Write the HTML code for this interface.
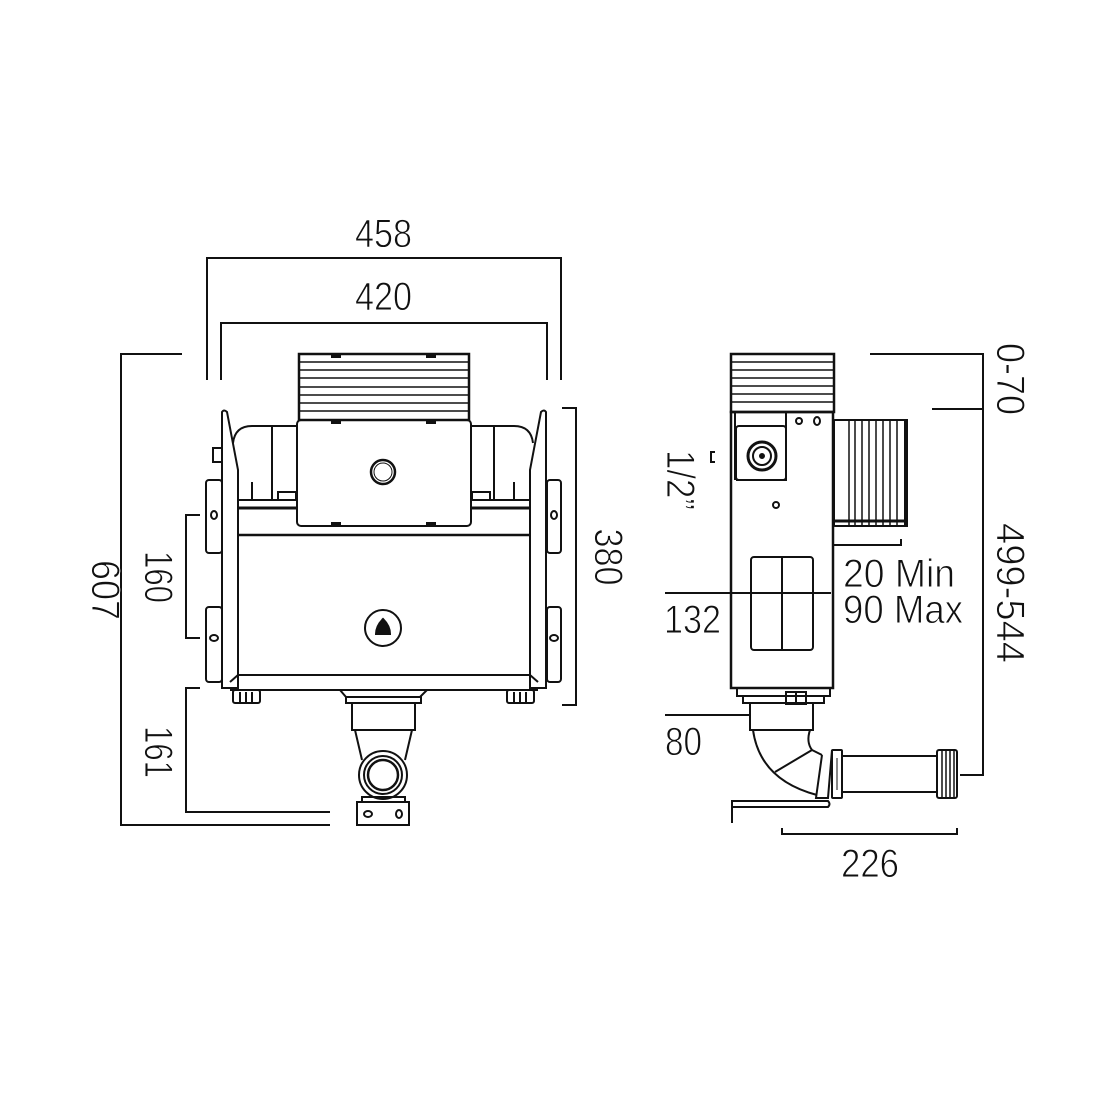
<!DOCTYPE html>
<html><head><meta charset="utf-8"><style>
html,body{margin:0;padding:0;background:#fff;}
svg{display:block}
text{font-family:"Liberation Sans",sans-serif;font-size:40px;fill:#111;stroke:#fff;stroke-width:0.9px;}
</style></head><body>
<svg width="1100" height="1100" viewBox="0 0 1100 1100" xmlns="http://www.w3.org/2000/svg">
<g fill="none" stroke="#111" stroke-width="2">
<polyline points="207,380 207,258 561,258 561,380"/>
<polyline points="221,380 221,323 547,323 547,380"/>
<polyline points="182,354 121,354 121,825 330,825"/>
<polyline points="200,515 186,515 186,638 200,638"/>
<polyline points="200,688 186,688 186,812 330,812"/>
<polyline points="562,408 576,408 576,705 562,705"/>

<rect x="299" y="354" width="170" height="66" stroke-width="2.5"/>
<g stroke-width="1.5">
<line x1="300" y1="362" x2="468" y2="362"/><line x1="300" y1="370" x2="468" y2="370"/>
<line x1="300" y1="378" x2="468" y2="378"/><line x1="300" y1="387" x2="468" y2="387"/>
<line x1="300" y1="395" x2="468" y2="395"/><line x1="300" y1="403" x2="468" y2="403"/>
<line x1="300" y1="411" x2="468" y2="411"/>
</g>
<g fill="#111" stroke="none">
<rect x="331" y="354" width="10" height="4"/><rect x="426" y="354" width="10" height="4"/>
<rect x="331" y="420" width="10" height="4"/><rect x="426" y="420" width="10" height="4"/>
<rect x="331" y="522" width="10" height="4"/><rect x="426" y="522" width="10" height="4"/>
</g>
<path d="M233,443 Q235,426 252,426 L297,426"/>
<path d="M533,443 Q531,426 514,426 L471,426"/>
<line x1="272" y1="426" x2="272" y2="500"/>
<line x1="494" y1="426" x2="494" y2="500"/>
<line x1="237" y1="500" x2="297" y2="500"/>
<line x1="471" y1="500" x2="531" y2="500"/>
<line x1="237" y1="508" x2="297" y2="508" stroke-width="3"/>
<line x1="471" y1="508" x2="531" y2="508" stroke-width="3"/>
<line x1="252" y1="482" x2="252" y2="500"/><line x1="514" y1="482" x2="514" y2="500"/>
<rect x="278" y="492" width="18" height="8"/><rect x="472" y="492" width="18" height="8"/>
<rect x="297" y="420" width="174" height="106" rx="4"/>
<circle cx="383" cy="472" r="12" stroke-width="2.5"/>
<circle cx="383" cy="472" r="9" stroke-width="1"/>
<path d="M222,688 L222,412 Q224,409 227,412 L238,470 L238,688 Z"/>
<path d="M546,688 L546,412 Q544,409 541,412 L530,470 L530,688 Z"/>
<rect x="213" y="448" width="9" height="14"/>
<rect x="206" y="480" width="16" height="73" rx="3"/><ellipse cx="214" cy="515" rx="3" ry="4"/>
<rect x="206" y="607" width="16" height="75" rx="3"/><ellipse cx="214" cy="638" rx="4" ry="3"/>
<rect x="547" y="480" width="14" height="73" rx="3"/><ellipse cx="554" cy="515" rx="3" ry="4"/>
<rect x="547" y="607" width="14" height="75" rx="3"/><ellipse cx="554" cy="638" rx="4" ry="3"/>
<line x1="238" y1="535" x2="530" y2="535" stroke-width="2.5"/>
<line x1="238" y1="675" x2="530" y2="675"/>
<polyline points="230,690 538,690"/>
<line x1="230" y1="682" x2="238" y2="675"/><line x1="538" y1="682" x2="530" y2="675"/>
<circle cx="383" cy="628" r="18"/>
<path d="M376,634 Q376,626 383,619 Q390,626 390,634 Z" fill="#111"/>
<rect x="233" y="690" width="27" height="13" rx="2"/>
<line x1="240" y1="692" x2="240" y2="702"/><line x1="246" y1="692" x2="246" y2="702"/><line x1="252" y1="692" x2="252" y2="702"/>
<rect x="507" y="690" width="27" height="13" rx="2"/>
<line x1="514" y1="692" x2="514" y2="702"/><line x1="520" y1="692" x2="520" y2="702"/><line x1="526" y1="692" x2="526" y2="702"/>
<path d="M340,690 L346,697 L420,697 L427,690"/>
<rect x="346" y="697" width="75" height="6"/>
<rect x="352" y="703" width="63" height="27"/>
<path d="M355,730 L362,760 M412,730 L405,760"/>
<circle cx="383" cy="775" r="24"/>
<circle cx="383" cy="775" r="19"/>
<circle cx="383" cy="775" r="15" stroke-width="2.5"/>
<rect x="362" y="797" width="43" height="5"/>
<rect x="357" y="802" width="52" height="23"/>
<ellipse cx="368" cy="814" rx="4" ry="3"/><ellipse cx="399" cy="814" rx="3" ry="4"/>

<rect x="731" y="354" width="103" height="58" stroke-width="2.5"/>
<g stroke-width="1.5">
<line x1="732" y1="362" x2="833" y2="362"/><line x1="732" y1="370" x2="833" y2="370"/>
<line x1="732" y1="378" x2="833" y2="378"/><line x1="732" y1="386" x2="833" y2="386"/>
<line x1="732" y1="394" x2="833" y2="394"/><line x1="732" y1="402" x2="833" y2="402"/>
</g>
<rect x="731" y="412" width="102" height="276" stroke-width="2.5"/>
<line x1="735" y1="412" x2="735" y2="480"/>
<polyline points="786,412 786,480 736,480"/>
<rect x="736" y="426" width="50" height="54" rx="3"/>
<circle cx="762" cy="456" r="14" stroke-width="3"/>
<circle cx="762" cy="456" r="9"/>
<circle cx="762" cy="456" r="2" fill="#111"/>
<ellipse cx="799" cy="421" rx="3" ry="3"/><ellipse cx="817" cy="421" rx="3" ry="4"/>
<circle cx="776" cy="505" r="3"/>
<rect x="751" y="557" width="62" height="93" rx="3"/>
<line x1="782" y1="557" x2="782" y2="650"/>
<rect x="834" y="420" width="72" height="106" rx="1"/>
<line x1="906" y1="419" x2="906" y2="527" stroke-width="4"/>
<g stroke-width="1.5">
<line x1="849" y1="421" x2="849" y2="525"/><line x1="855" y1="421" x2="855" y2="525"/>
<line x1="862" y1="421" x2="862" y2="525"/><line x1="869" y1="421" x2="869" y2="525"/>
<line x1="876" y1="421" x2="876" y2="525"/><line x1="883" y1="421" x2="883" y2="525"/>
<line x1="890" y1="421" x2="890" y2="525"/><line x1="897" y1="421" x2="897" y2="525"/>
</g>
<line x1="834" y1="521" x2="906" y2="521" stroke-width="3"/>
<polyline points="834,545 901,545 901,539"/>
<rect x="737" y="688" width="93" height="8"/>
<rect x="743" y="696" width="81" height="7"/>
<rect x="786" y="692" width="20" height="12"/>
<line x1="796" y1="692" x2="796" y2="704"/>
<rect x="750" y="703" width="63" height="27"/>
<path d="M753,730 Q760,780 817,795"/>
<path d="M810,730 Q806,742 812,750 L822,755"/>
<line x1="775" y1="772" x2="812" y2="750"/>
<path d="M822,755 L816,798 L828,798 L832,750"/>
<rect x="832" y="750" width="10" height="48" rx="1"/>
<line x1="837" y1="758" x2="837" y2="790" stroke-width="1"/>
<rect x="842" y="756" width="95" height="36"/>
<rect x="937" y="750" width="20" height="48" rx="2"/>
<g stroke-width="1.5"><line x1="942" y1="751" x2="942" y2="797"/><line x1="946" y1="751" x2="946" y2="797"/><line x1="950" y1="751" x2="950" y2="797"/><line x1="954" y1="751" x2="954" y2="797"/></g>
<path d="M732,823 L732,801 L828,801 Q831,804 828,807 L733,807"/>

<polyline points="870,354 983,354 983,775 960,775"/>
<line x1="932" y1="409" x2="983" y2="409"/>
<polyline points="715,452 711,452 711,462 715,462"/>
<line x1="665" y1="593" x2="831" y2="593"/>
<line x1="665" y1="715" x2="750" y2="715"/>
<polyline points="782,828 782,834 957,834 957,828"/>
</g>

<text x="355" y="247" textLength="57" lengthAdjust="spacingAndGlyphs">458</text>
<text x="355" y="310" textLength="57" lengthAdjust="spacingAndGlyphs">420</text>
<text transform="translate(92,590) rotate(90)" text-anchor="middle" textLength="60" lengthAdjust="spacingAndGlyphs">607</text>
<text transform="translate(145,577) rotate(90)" text-anchor="middle" textLength="52" lengthAdjust="spacingAndGlyphs">160</text>
<text transform="translate(145,752) rotate(90)" text-anchor="middle" textLength="52" lengthAdjust="spacingAndGlyphs">161</text>
<text transform="translate(595,557) rotate(90)" text-anchor="middle" textLength="57" lengthAdjust="spacingAndGlyphs">380</text>
<text transform="translate(997,379) rotate(90)" text-anchor="middle" textLength="72" lengthAdjust="spacingAndGlyphs">0-70</text>
<text transform="translate(997,593) rotate(90)" text-anchor="middle" textLength="140" lengthAdjust="spacingAndGlyphs">499-544</text>
<text transform="translate(667,480) rotate(90)" text-anchor="middle" textLength="60" lengthAdjust="spacingAndGlyphs">1/2”</text>
<text x="843" y="587" textLength="112" lengthAdjust="spacingAndGlyphs">20 Min</text>
<text x="843" y="623" textLength="120" lengthAdjust="spacingAndGlyphs">90 Max</text>
<text x="664" y="633" textLength="57" lengthAdjust="spacingAndGlyphs">132</text>
<text x="665" y="755" textLength="37" lengthAdjust="spacingAndGlyphs">80</text>
<text x="841" y="877" textLength="58" lengthAdjust="spacingAndGlyphs">226</text>
</svg>
</body></html>
